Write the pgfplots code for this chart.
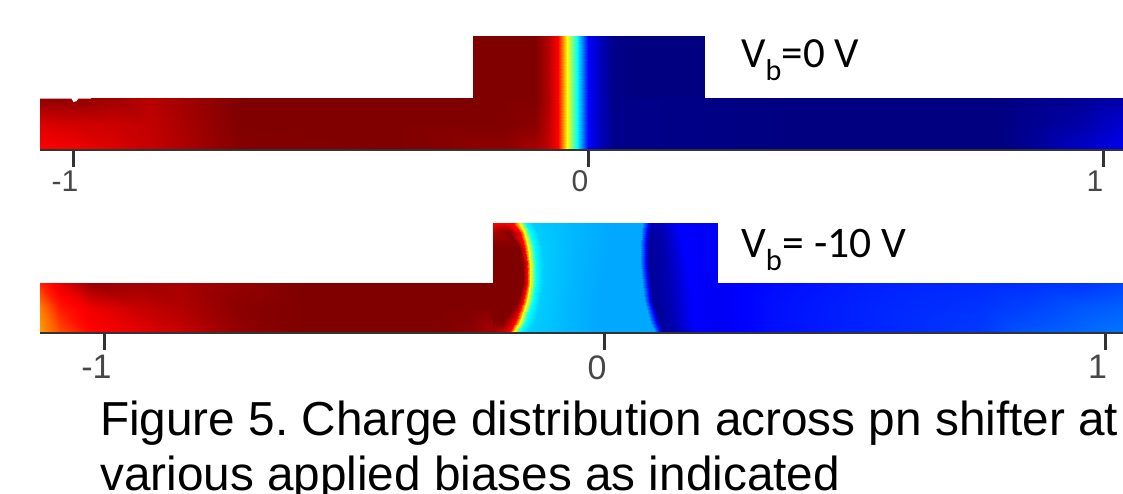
\documentclass[border=0pt]{standalone}
\usepackage{pgfplots}
\usepackage{fontspec}
\pgfplotsset{compat=1.18}
\setmainfont{Liberation Sans}
\newfontfamily\calib{Carlito}
\frenchspacing
\pgfplotsset{
  colormap={jetx}{rgb255(0cm)=(0,0,128) rgb255(1cm)=(0,0,255) rgb255(3cm)=(0,255,255) rgb255(5cm)=(255,255,0) rgb255(7cm)=(255,0,0) rgb255(8cm)=(128,0,0)},
  panel/.style={
    scale only axis, width=1083pt, ymin=0, ymax=0.24,
    hide y axis, axis x line=bottom, x axis line style={-,draw=black!80,line width=1.6pt},
    xtick={-1,0,1}, xticklabels={-1,0,1},
    major tick length=17pt, tick align=outside,
    x tick style={draw=black!80,line width=3pt},
    point meta min=0, point meta max=1, colormap name=jetx, axis on top,
    clip=true,
  },
  field/.style={surf, shader=interp, mesh/cols=#1, point meta=\thisrow{c}},
}
\begin{document}
\begin{tikzpicture}[x=1pt,y=1pt]
\useasboundingbox (0,0) rectangle (1123,494);
\begin{axis}[panel, at={(40pt,344pt)}, anchor=south west, height=114pt, xmin=-1.0641, xmax=1.0388,
  xticklabel style={font=\fontsize{30}{30}\selectfont,text=black!72,xshift=-8pt,yshift=0pt}]
\addplot[field=21] table[x=x,y=y] {
x y c
-1.064 0 .875
-.996 0 .885
-.928 0 .905
-.850 0 .93
-.773 0 .96
-.676 0 .995
-.365 0 1
-.161 0 .985
-.103 0 .96
-.078 0 .93
-.058 0 .875
-.041 0 .625
-.021 0 .375
0 0 .125
.023 0 .06
.049 0 .01
.412 0 0
.800 0 0
.878 0 .03
.955 0 .07
1.039 0 .11
-1.064 .055 .91
-.996 .055 .92
-.928 .055 .925
-.850 .055 .935
-.773 .055 .965
-.676 .055 1
-.365 .055 1
-.161 .055 1
-.103 .055 .99
-.078 .055 .94
-.058 .055 .875
-.041 .055 .625
-.021 .055 .375
0 .055 .125
.023 .055 .06
.049 .055 .01
.412 .055 0
.800 .055 0
.878 .055 .02
.955 .055 .04
1.039 .055 .08
-1.064 .11 .985
-.996 .11 .985
-.928 .11 .97
-.850 .11 .945
-.773 .11 .97
-.676 .11 1
-.365 .11 1
-.161 .11 1
-.103 .11 1
-.078 .11 .95
-.058 .11 .875
-.041 .11 .625
-.021 .11 .375
0 .11 .125
.023 .11 .06
.049 .11 .01
.412 .11 0
.800 .11 0
.878 .11 .01
.955 .11 .02
1.039 .11 .04
};
\addplot[field=12] table[x=x,y=y] {
x y c
-.224 .11 1
-.161 .11 1
-.103 .11 1
-.078 .11 .95
-.058 .11 .875
-.041 .11 .625
-.021 .11 .375
0 .11 .125
.023 .11 .06
.049 .11 .01
.100 .11 0
.227 .11 0
-.224 .175 1
-.161 .175 1
-.103 .175 1
-.078 .175 .95
-.058 .175 .875
-.041 .175 .625
-.021 .175 .375
0 .175 .125
.023 .175 .06
.049 .175 .01
.100 .175 0
.227 .175 0
-.224 .24 1
-.161 .24 1
-.103 .24 1
-.078 .24 .95
-.058 .24 .875
-.041 .24 .625
-.021 .24 .375
0 .24 .125
.023 .24 .06
.049 .24 .01
.100 .24 0
.227 .24 0
};
\addplot[fill=white,draw=none] coordinates {(-1.0641,.11) (-1.0641,.108) (-1.003,.108) (-.999,.101) (-.993,.103) (-.990,.108) (-.965,.108) (-.965,.11)};
\end{axis}
\begin{axis}[panel, at={(40pt,161pt)}, anchor=south west, height=110pt, xmin=-1.1289, xmax=1.0350,
  xticklabel style={font=\fontsize{34}{34}\selectfont,text=black!72,xshift=-8pt,yshift=-2pt}]
\addplot[field=10] table[x=x,y=y] {
x y c
-1.1289 0 .72
-1.0889 0 .80
-1.029 0 .87
-.9291 0 .90
-.8492 0 .93
-.7293 0 .98
-.6094 0 1
-.3297 0 1
-.2697 0 .99
-.2244 0 .96
-1.1289 .055 .75
-1.0889 .055 .85
-1.029 .055 .89
-.9291 .055 .93
-.8492 .055 .95
-.7293 .055 .99
-.6094 .055 1
-.3297 .055 1
-.2697 .055 1
-.2244 .055 1
-1.1289 .11 .84
-1.0889 .11 .90
-1.029 .11 .975
-.9291 .11 .97
-.8492 .11 .96
-.7293 .11 .98
-.6094 .11 1
-.3297 .11 1
-.2697 .11 1
-.2244 .11 1
};
\addplot[field=13] table[x=x,y=y] {
x y c
-.2244 0 .96
-.2098 0 .93
-.1911 0 .875
-.1831 0 .625
-.1712 0 .375
-.1532 0 .325
-.0766 0 .305
-.0133 0 .29
.0999 0 .29
.1185 0 .03
.1432 0 .05
.1831 0 .125
.2244 0 .115
-.2244 .025 1
-.2031 .025 1
-.1798 .025 .875
-.1698 .025 .625
-.1578 .025 .375
-.1399 .025 .325
-.0766 .025 .305
-.0166 .025 .29
.0899 .025 .29
.1099 .025 .02
.1365 .025 .05
.1765 .025 .125
.2244 .025 .115
-.2244 .07 1
-.1732 .07 1
-.1632 .07 .875
-.1565 .07 .625
-.1445 .07 .375
-.1299 .07 .325
-.0733 .07 .305
-.0166 .07 .29
.0779 .07 .29
.0966 .07 .02
.1299 .07 .05
.1732 .07 .125
.2244 .07 .115
-.2244 .11 1
-.1645 .11 1
-.1565 .11 .875
-.1499 .11 .625
-.1385 .11 .375
-.1232 .11 .325
-.0699 .11 .305
-.0067 .11 .29
.0733 .11 .29
.0919 .11 .02
.1265 .11 .05
.1698 .11 .125
.2244 .11 .115
-.2244 .15 1
-.1632 .15 1
-.1565 .15 .875
-.1499 .15 .625
-.1385 .15 .375
-.1232 .15 .325
-.0666 .15 .305
.0033 .15 .29
.0699 .15 .29
.0886 .15 .02
.1232 .15 .05
.1632 .15 .125
.2244 .15 .115
-.2244 .19 1
-.1712 .19 1
-.1612 .19 .875
-.1538 .19 .625
-.1419 .19 .375
-.1265 .19 .325
-.0633 .19 .305
.0100 .19 .29
.0699 .19 .29
.0886 .19 .02
.1199 .19 .05
.1565 .19 .125
.2244 .19 .115
-.2244 .22 .96
-.1911 .22 1
-.1698 .22 .875
-.1612 .22 .625
-.1499 .22 .375
-.1332 .22 .325
-.0633 .22 .305
.0133 .22 .29
.0713 .22 .29
.0899 .22 .03
.1132 .22 .05
.1499 .22 .125
.2244 .22 .115
-.2244 .24 .88
-.1965 .24 .88
-.1831 .24 .875
-.1698 .24 .625
-.1598 .24 .375
-.1432 .24 .325
-.0633 .24 .305
.0167 .24 .29
.0733 .24 .29
.0932 .24 .05
.1099 .24 .06
.1432 .24 .125
.2244 .24 .115
};
\addplot[field=7] table[x=x,y=y] {
x y c
.2244 0 .115
.3397 0 .14
.5295 0 .16
.7493 0 .18
.8492 0 .21
.9491 0 .225
1.0350 0 .24
.2244 .055 .115
.3397 .055 .14
.5295 .055 .16
.7493 .055 .175
.8492 .055 .19
.9491 .055 .21
1.0350 .055 .22
.2244 .11 .115
.3397 .11 .135
.5295 .11 .155
.7493 .11 .165
.8492 .11 .17
.9491 .11 .175
1.0350 .11 .19
};
\end{axis}
\node[anchor=base west,inner sep=0pt] at (741,426) {\calib\fontsize{43}{43}\selectfont V\textsubscript{b}=0 V};
\node[anchor=base west,inner sep=0pt] at (741,236) {\calib\fontsize{43.6}{43.6}\selectfont V\textsubscript{b}= -10 V};
\node[anchor=base west,inner sep=0pt] at (100,58) {\fontsize{47.7}{47.7}\selectfont Figure 5. Charge distribution across pn shifter at};
\node[anchor=base west,inner sep=0pt] at (100,3) {\fontsize{47.7}{47.7}\selectfont various applied biases as indicated};
\end{tikzpicture}
\end{document}
